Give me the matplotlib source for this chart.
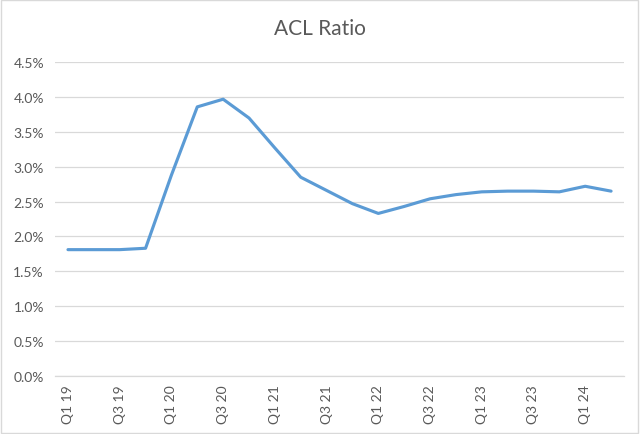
import matplotlib.pyplot as plt
from matplotlib.ticker import PercentFormatter

quarters = ["Q1 19", "Q2 19", "Q3 19", "Q4 19", "Q1 20", "Q2 20", "Q3 20", "Q4 20",
            "Q1 21", "Q2 21", "Q3 21", "Q4 21", "Q1 22", "Q2 22", "Q3 22", "Q4 22",
            "Q1 23", "Q2 23", "Q3 23", "Q4 23", "Q1 24", "Q2 24"]
acl_ratio = [1.81, 1.81, 1.81, 1.83, 2.88, 3.86, 3.97, 3.70,
             3.27, 2.85, 2.66, 2.47, 2.33, 2.43, 2.54, 2.60,
             2.64, 2.65, 2.65, 2.64, 2.72, 2.65]

plt.rcParams['font.family'] = ['Lato', 'DejaVu Sans']

fig = plt.figure(figsize=(6.4, 4.35), dpi=100)
ax = fig.add_axes([0.086, 0.134, 0.889, 0.7205])

x = list(range(len(quarters)))
ax.plot(x, acl_ratio, color="#5B9BD5", linewidth=2.25, solid_joinstyle="round",
        solid_capstyle="round", zorder=3)

ax.set_xlim(-0.5, len(quarters) - 0.5)
ax.set_ylim(0, 4.5)
ax.set_yticks([i * 0.5 for i in range(10)])
ax.yaxis.set_major_formatter(PercentFormatter(decimals=1))
ax.set_xticks(x[::2])
ax.set_xticklabels(quarters[::2], rotation=90)

ax.grid(axis="y", color="#D9D9D9", linewidth=0.9)
ax.set_axisbelow(True)
for side in ["top", "right", "left"]:
    ax.spines[side].set_visible(False)
ax.spines["bottom"].set_color("#D9D9D9")
ax.spines["bottom"].set_linewidth(0.9)
ax.tick_params(length=0, labelsize=10, labelcolor="#595959")
ax.tick_params(axis="y", pad=8)
ax.tick_params(axis="x", pad=6)

fig.text(0.5, 0.933, "ACL Ratio", ha="center", va="center", fontsize=15, color="#595959")

fig.patches.append(plt.Rectangle((0.002, 0.002), 0.995, 0.995, transform=fig.transFigure,
                                 fill=False, edgecolor="#D9D9D9", linewidth=1))

fig.savefig("out.png", dpi=100)
